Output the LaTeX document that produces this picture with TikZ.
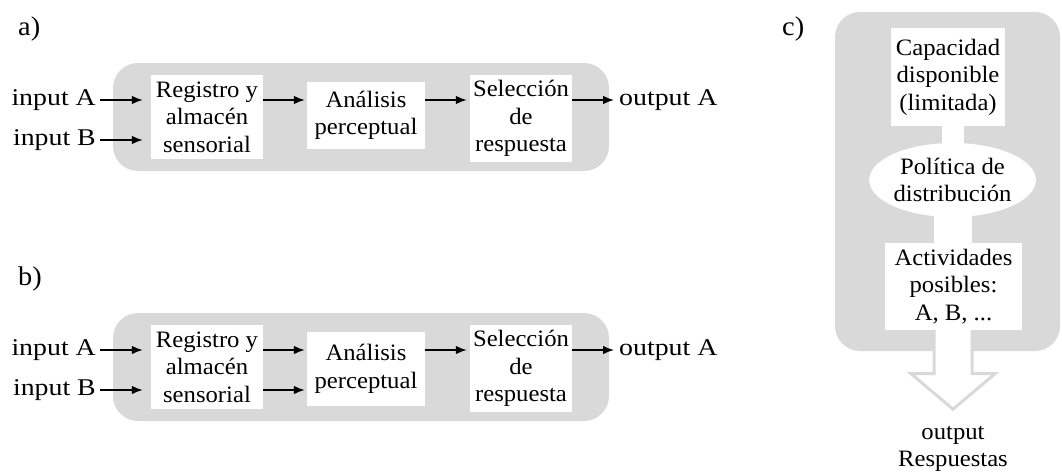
\documentclass[tikz,border=0pt]{standalone}
\usepackage{fontspec}
\setmainfont{Liberation Serif}[FakeStretch=1.05]
\newfontfamily\iofont{Liberation Serif}[FakeStretch=1.16]
\usetikzlibrary{arrows.meta,shapes.geometric}
\definecolor{panelgray}{RGB}{217,217,217}
\tikzset{
  panel/.style={fill=panelgray, rounded corners=25pt},
  stage/.style={fill=white, inner sep=0pt, align=center},
  lbl/.style={inner sep=0pt},
  io/.style={inner sep=0pt, font=\iofont\fontsize{24}{27.5}\selectfont},
  tag/.style={inner sep=0pt, font=\fontsize{27}{30}\selectfont},
  arr/.style={-{Latex[length=11pt,width=8.5pt]}, line width=1.4pt},
  stemline/.style={draw=white, line width=#1}
}
\begin{document}
\begin{tikzpicture}[x=1pt, y=-1pt, font=\fontsize{23.5}{27.5}\selectfont]
\useasboundingbox (0,0) rectangle (1062,475);

% ---------- a) ----------
\node[tag, anchor=base west] (la) at (18,35) {a)};
\fill[panel] (113,63) rectangle (609,171);
\node[stage, minimum width=112, minimum height=84] (regA) at (207,117) {Registro y\\almacén\\sensorial};
\node[stage, minimum width=118, minimum height=67] (anaA) at (366,115.5) {Análisis\\perceptual};
\node[stage, minimum width=102, minimum height=87] (selA) at (521,118.5) {Selección\\de\\respuesta};
\node[io, anchor=east] (inAa) at (96,100) {input A};
\node[io, anchor=east] (inBa) at (96,140) {input B};
\node[io, anchor=west] (outa) at (619,100) {output A};
\draw[arr, shorten <=4pt, shorten >=8pt] (inAa.east) -- (inAa.east -| regA.west);
\draw[arr, shorten <=4pt, shorten >=8pt] (inBa.east) -- (inBa.east -| regA.west);
\draw[arr, shorten >=2pt] (regA.east |- inAa) -- (anaA.west |- inAa);
\draw[arr, shorten >=3pt] (anaA.east |- inAa) -- (selA.west |- inAa);
\draw[arr, shorten >=5pt] (selA.east |- inAa) -- (outa.west);

% ---------- b) ----------
\node[tag, anchor=base west] (lb) at (18,285) {b)};
\fill[panel] (113,313) rectangle (609,421);
\node[stage, minimum width=112, minimum height=84] (regB) at (207,367) {Registro y\\almacén\\sensorial};
\node[stage, minimum width=118, minimum height=74] (anaB) at (366,369) {Análisis\\perceptual};
\node[stage, minimum width=102, minimum height=87] (selB) at (521,368.5) {Selección\\de\\respuesta};
\node[io, anchor=east] (inAb) at (96,350) {input A};
\node[io, anchor=east] (inBb) at (96,390) {input B};
\node[io, anchor=west] (outb) at (619,350) {output A};
\draw[arr, shorten <=4pt, shorten >=8pt] (inAb.east) -- (inAb.east -| regB.west);
\draw[arr, shorten <=4pt, shorten >=8pt] (inBb.east) -- (inBb.east -| regB.west);
\draw[arr, shorten >=2pt] (regB.east |- inAb) -- (anaB.west |- inAb);
\draw[arr, shorten >=2pt] (regB.east |- inBb) -- (anaB.west |- inBb);
\draw[arr, shorten >=3pt] (anaB.east |- inAb) -- (selB.west |- inAb);
\draw[arr, shorten >=5pt] (selB.east |- inAb) -- (outb.west);

% ---------- c) ----------
\node[tag, anchor=base west] (lc) at (782,35) {c)};
\fill[panel] (835,12) rectangle (1060,351);
\node[stage, minimum width=114, minimum height=98] (cap) at (948,77) {Capacidad\\disponible\\(limitada)};
\node[stage, ellipse, minimum width=155, minimum height=74] (pol) at (952.5,180) {Política de\\distribución};
\node[stage, minimum width=137, minimum height=87] (act) at (953.5,286.5) {Actividades\\posibles:\\A, B, ...};
\draw[stemline=22pt] ([yshift=1pt]cap.south -| pol.north) -- ([yshift=-2pt]pol.north);
\draw[stemline=38pt] ([yshift=3pt]pol.south) -- ([yshift=-1pt]pol.south |- act.north);
% hollow block arrow leaving the activities box
\filldraw[fill=white, draw=panelgray, line width=3pt, line join=miter]
  ([xshift=-0.5pt]act.south) ++(-19,0) -- ++(0,43.5) -- ++(-23,0) -- ++(42,35.5)
  -- ++(42,-35.5) -- ++(-23,0) -- ++(0,-43.5);
\node[lbl, align=center] (resp) at (953,449) {output\\Respuestas};
\end{tikzpicture}
\end{document}
